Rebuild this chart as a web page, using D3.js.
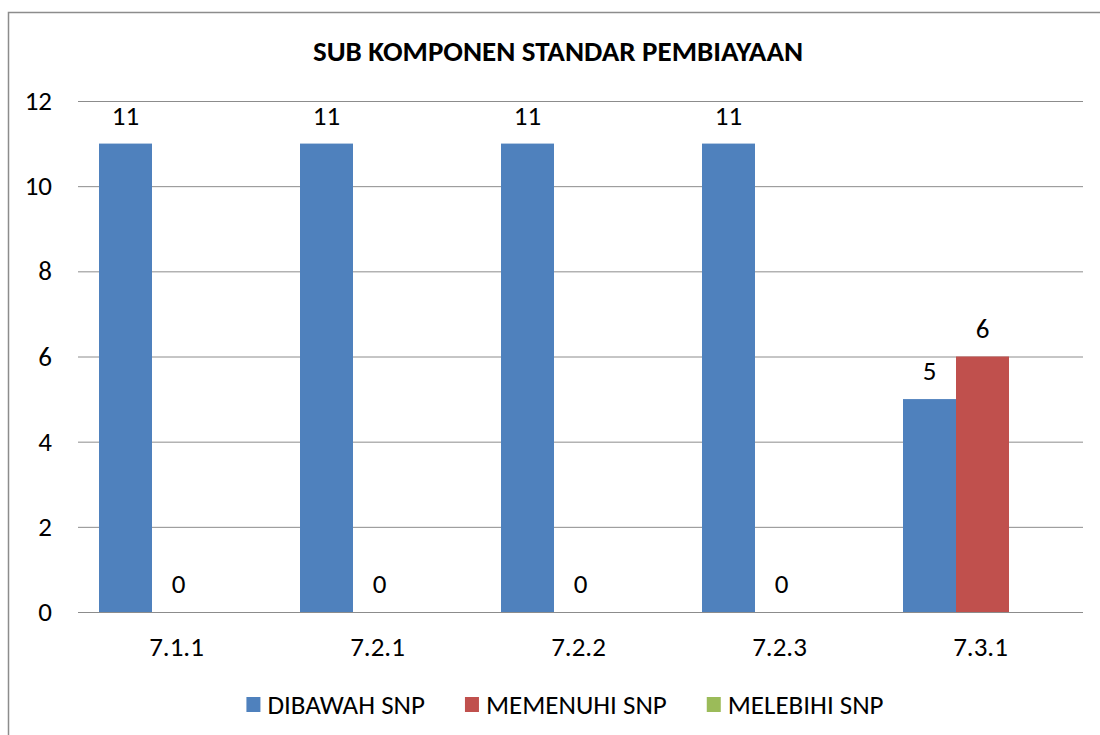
<!DOCTYPE html>
<meta charset="utf-8">
<head>
  <title>Sub komponen standar pembiayaan</title>
</head>
<style>
body { margin: 0; background: #fff; }
svg { font-family: Carlito, Calibri, Lato, sans-serif; }
.grid line { stroke: #8c8c8c; stroke-width: 1px; }
.lbl { font-size: 27px; fill: #000; }
</style>
<body>
<svg width="1100" height="735"></svg>
<script src="https://cdnjs.cloudflare.com/ajax/libs/d3/7.8.5/d3.min.js"></script>
<script>
var categories = ["7.1.1", "7.2.1", "7.2.2", "7.2.3", "7.3.1"];
var seriesNames = ["DIBAWAH SNP", "MEMENUHI SNP", "MELEBIHI SNP"];
var colors = ["#4F81BD", "#C0504D", "#9BBB59"];
var dibawah = [11, 11, 11, 11, 5];
var memenuhi = [0, 0, 0, 0, 6];
var melebihi = [null, null, null, null, null];
var yTicks = [0, 2, 4, 6, 8, 10, 12];

var series = [dibawah, memenuhi, melebihi];

var svg = d3.select("svg");

// chart border (runs off the right/bottom edge)
svg.append("path")
  .attr("d", "M8.5,760V12.5H1120")
  .attr("fill", "none")
  .attr("stroke", "#8c8c8c")
  .attr("stroke-width", 1.5);

var plotLeft = 78, plotRight = 1083, plotTop = 101, plotBottom = 612;

var x0 = d3.scaleBand()
  .domain(categories)
  .range([plotLeft, plotRight])
  .paddingInner(0.209)
  .paddingOuter(0.1045);

var x1 = d3.scaleBand()
  .domain(seriesNames)
  .range([0, x0.bandwidth()]);

var y = d3.scaleLinear()
  .domain([0, 12])
  .range([plotBottom, plotTop]);

// title
svg.append("text")
  .attr("x", 558)
  .attr("y", 61)
  .attr("text-anchor", "middle")
  .style("font-size", "29px")
  .style("font-weight", "bold")
  .text("SUB KOMPONEN STANDAR PEMBIAYAAN");

// gridlines
svg.append("g")
  .attr("class", "grid")
  .selectAll("line")
  .data(yTicks)
  .enter()
  .append("line")
  .attr("x1", plotLeft)
  .attr("x2", plotRight)
  .attr("y1", function(d) { return y(d) + 0.5; })
  .attr("y2", function(d) { return y(d) + 0.5; });

// y labels
svg.append("g")
  .selectAll("text")
  .data(yTicks)
  .enter()
  .append("text")
  .attr("class", "lbl")
  .attr("x", 52)
  .attr("y", function(d) { return y(d) + 9; })
  .attr("text-anchor", "end")
  .text(function(d) { return d; });

// x labels
svg.append("g")
  .selectAll("text")
  .data(categories)
  .enter()
  .append("text")
  .attr("class", "lbl")
  .attr("x", function(d) { return x0(d) + x0.bandwidth() / 2 - 2; })
  .attr("y", 656)
  .attr("text-anchor", "middle")
  .text(function(d) { return d; });

// bars
var cells = [];
series.forEach(function(vals, si) {
  vals.forEach(function(v, ci) {
    if (v !== null) cells.push({ s: si, c: ci, v: v });
  });
});

svg.append("g")
  .selectAll("rect")
  .data(cells)
  .enter()
  .append("rect")
  .attr("x", function(d) { return x0(categories[d.c]) + x1(seriesNames[d.s]); })
  .attr("width", x1.bandwidth())
  .attr("y", function(d) { return y(d.v); })
  .attr("height", function(d) { return y(0) - y(d.v); })
  .attr("fill", function(d) { return colors[d.s]; });

svg.append("g")
  .selectAll("text")
  .data(cells)
  .enter()
  .append("text")
  .attr("class", "lbl")
  .attr("x", function(d) { return x0(categories[d.c]) + x1(seriesNames[d.s]) + x1.bandwidth() / 2; })
  .attr("y", function(d) { return y(d.v) - 19; })
  .attr("text-anchor", "middle")
  .text(function(d) { return d.v; });

// legend
var legend = svg.append("g");
var lx = 0;
seriesNames.forEach(function(name, i) {
  var g = legend.append("g").attr("transform", "translate(" + lx + ",0)");
  g.append("rect")
    .attr("x", 0).attr("y", 697)
    .attr("width", 14).attr("height", 15)
    .attr("fill", colors[i]);
  var t = g.append("text")
    .attr("class", "lbl")
    .attr("x", 21)
    .attr("y", 714)
    .text(name);
  lx += 21 + t.node().getComputedTextLength() + 40;
});
var lw = lx - 40;
legend.attr("transform", "translate(" + (565 - lw / 2) + ",0)");
</script>
</body>
</html>
